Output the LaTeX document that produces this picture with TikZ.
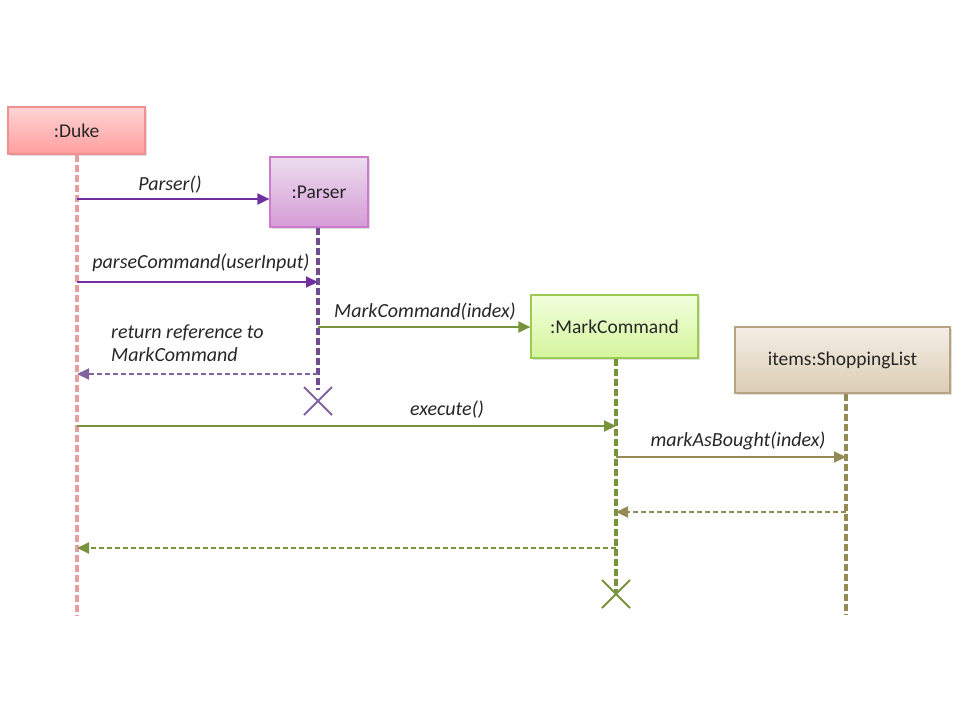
\documentclass[tikz,border=0pt]{standalone}
\usepackage{fontspec}
\setmainfont{Carlito}
\usetikzlibrary{arrows.meta,shadows}
\definecolor{dukeB}{HTML}{F09090}
\definecolor{dukeT}{HTML}{FFD4D4}
\definecolor{dukeF}{HTML}{FF9E9E}
\definecolor{dukeL}{HTML}{E6A0A0}
\definecolor{parB}{HTML}{CC7ACC}
\definecolor{parT}{HTML}{EDDCEE}
\definecolor{parF}{HTML}{D49CD6}
\definecolor{parL}{HTML}{6F4E8F}
\definecolor{purp}{HTML}{7030A0}
\definecolor{purpR}{HTML}{8064A2}
\definecolor{mcB}{HTML}{9BCB4F}
\definecolor{mcT}{HTML}{F2FFDC}
\definecolor{mcF}{HTML}{D4F59C}
\definecolor{grn}{HTML}{77933C}
\definecolor{slB}{HTML}{B9A282}
\definecolor{slT}{HTML}{F3EEE6}
\definecolor{slF}{HTML}{DCCDB4}
\definecolor{olv}{HTML}{948A54}
\tikzset{
  objbox/.style={draw=#1B, line width=1.2pt, top color=#1T, bottom color=#1F,
    drop shadow={shadow xshift=2pt, shadow yshift=-2pt, opacity=0.25},
    font=\fontsize{19.5}{22}\selectfont, text=black!85, inner sep=0pt},
  lifeline/.style={line width=3.5pt, dash pattern=on 7pt off 3pt, draw=#1},
  msg/.style={line width=2pt, draw=#1, -{Triangle[length=12pt,width=11pt,fill=#1]}},
  ret/.style={line width=2pt, draw=#1, dash pattern=on 5pt off 3pt, -{Triangle[length=12pt,width=11pt,fill=#1]}},
  lbl/.style={font=\itshape\fontsize{20}{23}\selectfont, text=black!85, inner sep=0pt},
  xmark/.style={line width=1.8pt, draw=#1}
}
\begin{document}
\begin{tikzpicture}[x=1pt,y=-1pt]
\useasboundingbox (0,0) rectangle (960,720);
% object boxes
\node[objbox=duke, minimum width=137pt, minimum height=47pt] (duke) at (76.5,130.5) {:Duke};
\node[objbox=par, minimum width=98pt, minimum height=70pt] (parser) at (319,192) {:Parser};
\node[objbox=mc, minimum width=167pt, minimum height=63pt] (mark) at (614.5,326.5) {:MarkCommand};
\node[objbox=sl, minimum width=215pt, minimum height=66pt] (shop) at (842.5,360) {items:ShoppingList};
% lifeline ends
\coordinate (dukeEnd) at (77,615);
\coordinate (parEnd) at (318,390);
\coordinate (markEnd) at (616,592);
\coordinate (shopEnd) at (846,615);
\draw[lifeline=dukeL] (duke.south -| dukeEnd) -- (dukeEnd);
\draw[lifeline=parL] (parser.south -| parEnd) -- (parEnd);
\draw[lifeline=grn] (mark.south -| markEnd) -- (markEnd);
\draw[lifeline=olv] (shop.south -| shopEnd) -- (shopEnd);
% destruction marks
\coordinate (parX) at (318,401);
\coordinate (markX) at (616,594);
\draw[xmark=purpR] ([shift={(-14,-14)}]parX) -- ([shift={(14,14)}]parX) ([shift={(-14,14)}]parX) -- ([shift={(14,-14)}]parX);
\draw[xmark=grn] ([shift={(-14,-14)}]markX) -- ([shift={(14,14)}]markX) ([shift={(-14,14)}]markX) -- ([shift={(14,-14)}]markX);
% message anchor points
\coordinate (d1) at (77,199);
\coordinate (d2) at (77,282);
\coordinate (p2) at (318,282);
\coordinate (p3) at (318,327);
\coordinate (d4) at (77,374);
\coordinate (p4) at (318,374);
\coordinate (d5) at (77,426);
\coordinate (m5) at (616,426);
\coordinate (m6) at (616,457);
\coordinate (s6) at (846,457);
\coordinate (s7) at (846,512);
\coordinate (m7) at (616,512);
\coordinate (m8) at (616,548);
\coordinate (d8) at (77,548);
% messages
\draw[msg=purp] (d1) -- (d1 -| parser.west);
\node[lbl] (l1) at (170,185) {Parser()};
\draw[msg=purp] (d2) -- (p2);
\node[lbl] (l2) at (201,263) {parseCommand(userInput)};
\draw[msg=grn] (p3) -- (p3 -| mark.west);
\node[lbl] (l3) at (425,312) {MarkCommand(index)};
\draw[ret=purpR] (p4) -- (d4);
\node[lbl, align=left, anchor=north west] (l4) at (111,325) {return reference to\\MarkCommand};
\draw[msg=grn] (d5) -- (m5);
\node[lbl] (l5) at (447,410) {execute()};
\draw[msg=olv] (m6) -- (s6);
\node[lbl] (l6) at (738,441) {markAsBought(index)};
\draw[ret=olv] (s7) -- (m7);
\draw[ret=grn] (m8) -- (d8);
\end{tikzpicture}
\end{document}
